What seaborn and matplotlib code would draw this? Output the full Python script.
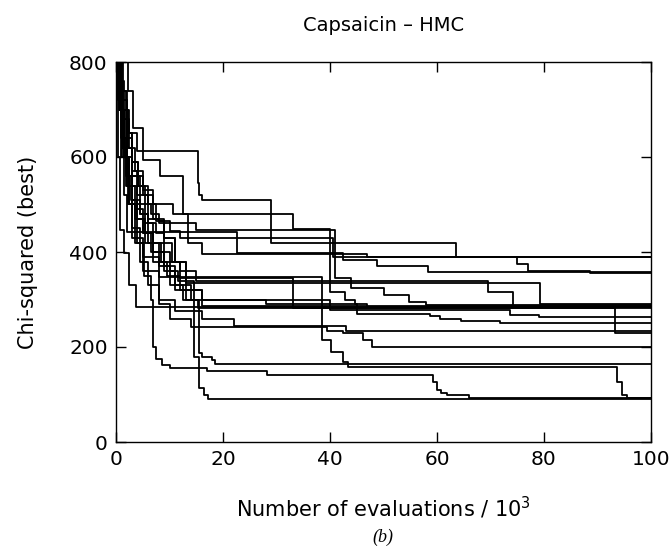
import matplotlib
matplotlib.use("Agg")
import matplotlib.pyplot as plt
import seaborn as sns
import pandas as pd

# ---- data: best chi-squared vs evaluations (x in units of 10^3), step curves ----
run01_x = [0, 0.8, 1.5, 2.5, 4, 15.3, 15.5, 16, 29, 63.5, 75, 77, 88.6]
run01_y = [850, 760, 700, 650, 613, 545, 520, 509, 419, 389, 375, 360, 355]
run02_x = [0, 1, 1.8, 2.5, 3.5, 5, 7, 10.6, 33, 40, 42.8, 44.7, 47]
run02_y = [850, 740, 680, 620, 570, 530, 500, 480, 448, 316, 300, 290, 285]
run03_x = [0, 0.5, 1, 1.5, 2, 22.6, 42.4, 48.8, 58.3]
run03_y = [850, 720, 600, 520, 442, 397, 383, 370, 358]
run04_x = [0, 1, 2, 3, 4.2, 5.5, 6.5, 8, 10, 12, 40.6]
run04_y = [850, 720, 650, 590, 540, 500, 480, 465, 445, 430, 389]
run05_x = [0, 0.7, 1.4, 2, 3, 4, 5.5, 7, 8.5, 10, 12, 15, 69.5, 74.2]
run05_y = [850, 700, 620, 560, 510, 470, 440, 420, 400, 380, 360, 339, 316, 285]
run06_x = [0, 1.2, 2, 3, 4.2, 6, 7.5, 9, 11, 13, 79.3]
run06_y = [850, 720, 650, 590, 540, 500, 465, 430, 380, 335, 290]
run07_x = [0, 0.6, 1.2, 1.8, 3, 4.5, 6, 8, 15, 41, 44, 50, 54.8, 58]
run07_y = [850, 700, 620, 540, 510, 480, 470, 460, 446, 345, 324, 309, 295, 288]
run08_x = [0, 0.3, 0.7, 1.5, 2.5, 3.8]
run08_y = [850, 600, 446, 398, 330, 284]
run09_x = [0, 0.9, 1.8, 2.5, 3.5, 5, 6.5, 9, 11, 14, 33, 40, 73.6, 79]
run09_y = [850, 680, 600, 540, 490, 440, 400, 360, 330, 300, 282, 278, 268, 263]
run10_x = [0, 1.4, 2.2, 3, 4.5, 6, 8, 10, 12.5, 15.3, 93.3]
run10_y = [850, 700, 620, 560, 480, 420, 370, 330, 300, 282, 230]
run11_x = [0, 0.4, 1.1, 1.8, 2.8, 4, 5.5, 7, 9.5, 12, 16, 28, 45, 58.7, 60.6, 64.4, 71.8]
run11_y = [850, 720, 640, 560, 510, 470, 420, 380, 350, 320, 300, 290, 270, 265, 258, 255, 251]
run12_x = [0, 1, 1.5, 2.5, 3.5, 5, 8, 11, 16, 22, 43]
run12_y = [850, 700, 600, 500, 420, 360, 300, 275, 260, 245, 233]
run13_x = [0, 1, 2, 3, 4.5, 6, 8, 10, 14, 39.4, 42.5, 46.2, 47.9]
run13_y = [850, 640, 540, 450, 380, 330, 290, 260, 242, 234, 229, 215, 200]
run14_x = [0, 1, 2, 3, 4, 5.5, 7, 9, 11, 13, 15.5, 16, 18, 18.5]
run14_y = [850, 740, 650, 570, 500, 460, 420, 370, 320, 300, 187, 180, 173, 164]
run15_x = [0, 0.8, 1.5, 2.2, 3, 5, 8, 38.5, 40.2, 42.4, 43.4, 93.6, 94.5, 95.5]
run15_y = [850, 700, 600, 500, 430, 390, 348, 215, 189, 168, 158, 126, 100, 92]
run16_x = [0, 1, 2, 3, 4, 5.2, 6.5, 7, 7.5, 8.6, 10, 17, 28.3, 59.3, 60, 60.8, 61.8, 66]
run16_y = [850, 700, 600, 500, 420, 350, 300, 200, 175, 162, 156, 150, 141, 126, 109, 104, 99, 92]
run17_x = [0, 1, 2, 3, 5, 7, 9, 11, 13, 14.5, 15.5, 16.5, 17.2]
run17_y = [850, 700, 640, 560, 520, 470, 430, 380, 340, 180, 113, 100, 90]
run18_x = [0, 0.8, 1.5, 2, 3, 4, 6, 7.5, 9, 10.5, 12, 33, 40]
run18_y = [850, 700, 620, 560, 540, 520, 460, 440, 420, 380, 345, 300, 282]
run19_x = [0, 0.5, 1.2, 2.5, 3.5, 5, 7, 8.5, 10, 11.5, 13, 16]
run19_y = [850, 760, 600, 500, 470, 440, 400, 380, 360, 340, 320, 286]
run20_x = [0, 2.2, 3.2, 5, 8.2, 12.5, 13.5, 16, 47]
run20_y = [850, 740, 661, 594, 560, 480, 420, 395, 389]

runs_x = [run01_x, run02_x, run03_x, run04_x, run05_x, run06_x, run07_x,
          run08_x, run09_x, run10_x, run11_x, run12_x, run13_x, run14_x,
          run15_x, run16_x, run17_x, run18_x, run19_x, run20_x]
runs_y = [run01_y, run02_y, run03_y, run04_y, run05_y, run06_y, run07_y,
          run08_y, run09_y, run10_y, run11_y, run12_y, run13_y, run14_y,
          run15_y, run16_y, run17_y, run18_y, run19_y, run20_y]

x_end = 100
rows = []
for i, (xs, ys) in enumerate(zip(runs_x, runs_y)):
    xs2 = list(xs) + [x_end]
    ys2 = list(ys) + [ys[-1]]
    for xv, yv in zip(xs2, ys2):
        rows.append({"run": i, "x": xv, "y": yv})
df = pd.DataFrame(rows)

sns.set_style("ticks")
plt.rcParams["font.family"] = ["DejaVu Sans"]
plt.rcParams["text.color"] = "black"
plt.rcParams["axes.labelcolor"] = "black"
plt.rcParams["xtick.color"] = "black"
plt.rcParams["ytick.color"] = "black"

fig = plt.figure(figsize=(6.72, 5.46), dpi=100)
ax = fig.add_axes([116 / 672, 1 - 442 / 546, (651 - 116) / 672, (442 - 62) / 546])

sns.lineplot(data=df, x="x", y="y", units="run", estimator=None,
             color="black", drawstyle="steps-post", linewidth=1.3,
             legend=False, ax=ax)

ax.set_xlim(0, 100)
ax.set_ylim(0, 800)
ax.set_xticks([0, 20, 40, 60, 80, 100])
ax.set_yticks([0, 200, 400, 600, 800])
ax.tick_params(direction="in", length=7, width=1, top=True, right=True,
               labelsize=14.5, pad=6, colors="black", labelcolor="black")
for s in ax.spines.values():
    s.set_visible(True)
    s.set_linewidth(1.0)
    s.set_color("black")

ax.set_xlabel("Number of evaluations / 10$^3$", fontsize=15, labelpad=18, color="black")
ax.set_ylabel("Chi-squared (best)", fontsize=15, labelpad=22, color="black")
ax.set_title("Capsaicin – HMC", fontsize=14, pad=22, color="black")
fig.text(383 / 672, 1 - 537 / 546, "(b)", fontsize=13, style="italic",
         family="Liberation Serif", ha="center", va="center", color="black")

fig.savefig("out.png", dpi=100)
